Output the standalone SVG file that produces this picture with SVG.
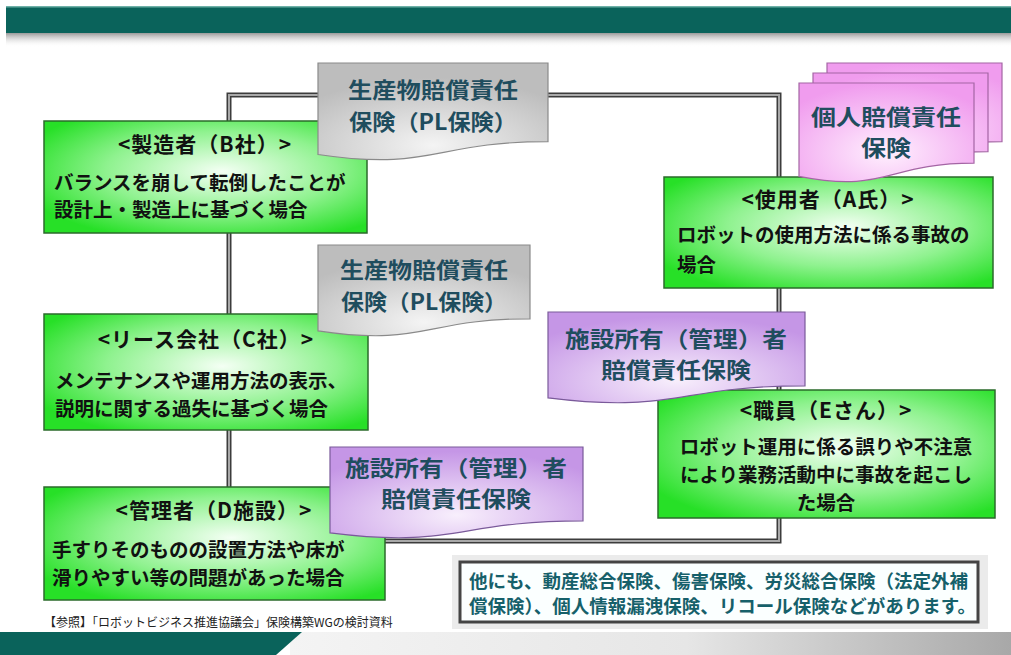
<svg xmlns="http://www.w3.org/2000/svg" width="1011" height="655" viewBox="0 0 1011 655">
<defs>
<style>
.box{stroke:#2b6b2b;stroke-width:1.5}
.bt{font-family:"Noto Sans CJK JP","Noto Sans",sans-serif;font-weight:bold;font-size:19.5px;fill:#111;dominant-baseline:central}
.tt{font-family:"Noto Sans CJK JP","Noto Sans",sans-serif;font-weight:bold;font-size:21px;letter-spacing:1px;fill:#111;dominant-baseline:central;text-anchor:middle}
.ct{font-family:"Noto Sans CJK JP","Noto Sans",sans-serif;font-weight:bold;font-size:22px;fill:#1f4d5e;text-anchor:middle;dominant-baseline:central}
.nt{font-family:"Noto Sans CJK JP","Noto Sans",sans-serif;font-weight:bold;font-size:18.5px;fill:#16606a;dominant-baseline:central}
.ft{font-family:"Noto Sans CJK JP","Noto Sans",sans-serif;font-size:12px;fill:#222;dominant-baseline:central}
.lo{fill:none;stroke:#3c3c3c;stroke-width:5}
.li{fill:none;stroke:#a9a9a9;stroke-width:2}
.gray{fill:url(#gGray);stroke:#8a8a8a;stroke-width:1.2}
.pink{fill:url(#gPink);stroke:#a465a4;stroke-width:1.2}
.purp{fill:url(#gPurp);stroke:#7a5a9a;stroke-width:1.2}
</style>
<radialGradient id="gGreen" cx="55%" cy="45%" r="65%">
<stop offset="0" stop-color="#f4fff4"/><stop offset="0.55" stop-color="#8ff28f"/><stop offset="1" stop-color="#27e027"/>
</radialGradient>
<radialGradient id="gGray" cx="50%" cy="85%" r="70%">
<stop offset="0" stop-color="#f4f4f4"/><stop offset="1" stop-color="#bdbdbd"/>
</radialGradient>
<radialGradient id="gPink" cx="50%" cy="70%" r="70%">
<stop offset="0" stop-color="#fff0fe"/><stop offset="1" stop-color="#f09cee"/>
</radialGradient>
<radialGradient id="gPurp" cx="50%" cy="75%" r="70%">
<stop offset="0" stop-color="#f8effc"/><stop offset="1" stop-color="#c596e6"/>
</radialGradient>
<linearGradient id="gShadow" x1="0" y1="0" x2="0" y2="1">
<stop offset="0" stop-color="#9a9a9a"/><stop offset="1" stop-color="#ffffff" stop-opacity="0"/>
</linearGradient>
<linearGradient id="gBottom" x1="0" y1="0" x2="1" y2="0">
<stop offset="0" stop-color="#f4f4f4"/><stop offset="0.55" stop-color="#e6e6e6"/><stop offset="1" stop-color="#a8a8a8"/>
</linearGradient>
</defs>
<rect width="1011" height="655" fill="#ffffff"/>
<!-- header band -->
<rect x="6" y="33" width="1005" height="14" fill="url(#gShadow)"/>
<rect x="6" y="6" width="1005" height="27" fill="#0a635b"/>
<rect x="6" y="6" width="1005" height="1.5" fill="#6fb1a8"/>
<!-- footer band -->
<rect x="290" y="632" width="721" height="23" fill="url(#gBottom)"/>
<polygon points="0,632 302,632 276,655 0,655" fill="#0a635b"/>

<g id="connectors">
<path class="lo" d="M229,487 V95 H779 V541 H385"/>
<path class="li" d="M229,487 V95 H779 V541 H385"/>
</g>

<g id="node-b">
<rect class="box" x="44" y="121" width="323" height="112" fill="url(#gGreen)"/>
<text class="tt" x="205" y="143">&lt;製造者（B社）&gt;</text>
<text class="bt" x="54" y="181">バランスを崩して転倒したことが</text>
<text class="bt" x="54" y="208">設計上・製造上に基づく場合</text>
</g>
<g id="node-c">
<rect class="box" x="44" y="314" width="324" height="116" fill="url(#gGreen)"/>
<text class="tt" x="206" y="338">&lt;リース会社（C社）&gt;</text>
<text class="bt" x="55" y="379">メンテナンスや運用方法の表示、</text>
<text class="bt" x="55" y="407">説明に関する過失に基づく場合</text>
</g>
<g id="node-d">
<rect class="box" x="44" y="487" width="341" height="113" fill="url(#gGreen)"/>
<text class="tt" x="214" y="509">&lt;管理者（D施設）&gt;</text>
<text class="bt" x="52" y="548">手すりそのものの設置方法や床が</text>
<text class="bt" x="52" y="576">滑りやすい等の問題があった場合</text>
</g>
<g id="node-a">
<rect class="box" x="664" y="177" width="329" height="111" fill="url(#gGreen)"/>
<text class="tt" x="828" y="198">&lt;使用者（A氏）&gt;</text>
<text class="bt" x="677" y="233">ロボットの使用方法に係る事故の</text>
<text class="bt" x="677" y="263">場合</text>
</g>
<g id="node-e">
<rect class="box" x="658" y="390" width="337" height="128" fill="url(#gGreen)"/>
<text class="tt" x="826" y="409">&lt;職員（Eさん）&gt;</text>
<text class="bt" x="826" y="445" text-anchor="middle">ロボット運用に係る誤りや不注意</text>
<text class="bt" x="826" y="473" text-anchor="middle">により業務活動中に事故を起こし</text>
<text class="bt" x="826" y="501" text-anchor="middle">た場合</text>
</g>

<g id="callout-pl1">
<path class="gray" d="M318,63 H548 V141.6 C433,141.6 433,171.5 318,154.5 Z"/>
<text class="ct" x="433" y="88" textLength="170" lengthAdjust="spacingAndGlyphs">生産物賠償責任</text>
<text class="ct" x="433" y="120" textLength="168" lengthAdjust="spacingAndGlyphs">保険（PL保険）</text>
</g>
<g id="callout-pl2">
<path class="gray" d="M318,245 H530 V318.8 C424,318.8 424,346.8 318,330.9 Z"/>
<text class="ct" x="424" y="268" textLength="168" lengthAdjust="spacingAndGlyphs">生産物賠償責任</text>
<text class="ct" x="424" y="300" textLength="166" lengthAdjust="spacingAndGlyphs">保険（PL保険）</text>
</g>
<g id="callout-personal">
<path class="pink" d="M827,63 H1002 V141.6 C914.5,141.6 914.5,171.5 827,154.5 Z"/>
<path class="pink" d="M813,73 H988 V151.6 C900.5,151.6 900.5,181.5 813,164.5 Z"/>
<path class="pink" d="M799,83 H974 V163.2 C886.5,163.2 886.5,193.7 799,176.4 Z"/>
<text class="ct" x="886" y="115" textLength="150" lengthAdjust="spacingAndGlyphs">個人賠償責任</text>
<text class="ct" x="886" y="146" textLength="50" lengthAdjust="spacingAndGlyphs">保険</text>
</g>
<g id="callout-facility1">
<path class="purp" d="M548,312 H805 V385.8 C676.5,385.8 676.5,413.8 548,397.9 Z"/>
<text class="ct" x="676" y="337" textLength="222" lengthAdjust="spacingAndGlyphs">施設所有（管理）者</text>
<text class="ct" x="676" y="368" textLength="150" lengthAdjust="spacingAndGlyphs">賠償責任保険</text>
</g>
<g id="callout-facility2">
<path class="purp" d="M330,447 H583 V520.8 C456.5,520.8 456.5,548.8 330,532.9 Z"/>
<text class="ct" x="456" y="466" textLength="222" lengthAdjust="spacingAndGlyphs">施設所有（管理）者</text>
<text class="ct" x="456" y="497" textLength="150" lengthAdjust="spacingAndGlyphs">賠償責任保険</text>
</g>

<g id="note">
<rect x="452" y="555" width="536" height="74" fill="#dedede" opacity="0.6"/>
<rect x="460" y="562" width="518" height="60" fill="#fbffff" stroke="#444" stroke-width="3"/>
<text class="nt" x="469" y="580">他にも、動産総合保険、傷害保険、労災総合保険（法定外補</text>
<text class="nt" x="469" y="605">償保険）、個人情報漏洩保険、リコール保険などがあります。</text>
</g>
<text class="ft" x="44" y="621">【参照】「ロボットビジネス推進協議会」保険構築WGの検討資料</text>
</svg>
